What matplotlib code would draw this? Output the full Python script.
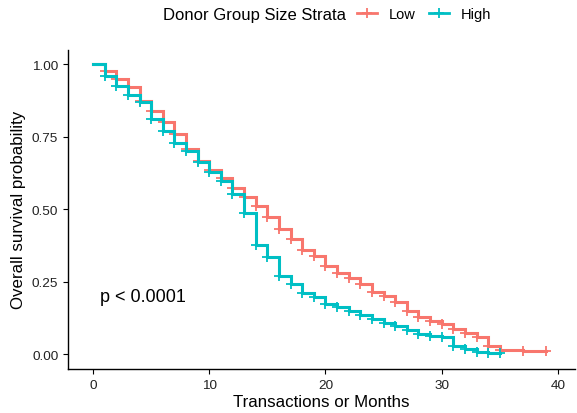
import matplotlib.pyplot as plt
import numpy as np
from matplotlib.lines import Line2D

plt.rcParams['font.family'] = ['Liberation Sans', 'DejaVu Sans']

# Kaplan-Meier estimates (level after each step)
low_time = [0, 1, 2, 3, 4, 5, 6, 7, 8, 9, 10, 11, 12, 13, 14, 15, 16, 17, 18, 19,
            20, 21, 22, 23, 24, 25, 26, 27, 28, 29, 30, 31, 32, 33, 34, 35, 37, 39]
low_surv = [1.0, 0.977, 0.948, 0.920, 0.874, 0.839, 0.800, 0.759, 0.707, 0.667,
            0.636, 0.606, 0.571, 0.540, 0.511, 0.471, 0.431, 0.397, 0.357, 0.339,
            0.304, 0.278, 0.263, 0.241, 0.215, 0.200, 0.178, 0.150, 0.127, 0.115,
            0.103, 0.086, 0.071, 0.059, 0.029, 0.014, 0.009, 0.009]

high_time = [0, 1, 2, 3, 4, 5, 6, 7, 8, 9, 10, 11, 12, 13, 14, 15, 16, 17, 18, 19,
             20, 21, 22, 23, 24, 25, 26, 27, 28, 29, 30, 31, 32, 33, 34, 35]
high_surv = [1.0, 0.957, 0.925, 0.894, 0.868, 0.810, 0.768, 0.728, 0.700, 0.661,
             0.626, 0.598, 0.552, 0.486, 0.376, 0.333, 0.270, 0.241, 0.211, 0.195,
             0.172, 0.161, 0.149, 0.133, 0.122, 0.108, 0.098, 0.083, 0.068, 0.063,
             0.058, 0.027, 0.017, 0.008, 0.003, 0.003]

strata = ["Low", "High"]
colors = ["#F8766D", "#00BFC4"]
pval_text = "p < 0.0001"

fig = plt.figure(figsize=(5.77, 4.14), dpi=100)
ax = fig.add_axes([0.118, 0.106, 0.879, 0.772])

for t, s, c in [(low_time, low_surv, colors[0]), (high_time, high_surv, colors[1])]:
    t = np.array(t)
    s = np.array(s)
    ax.step(t, s, where="post", color=c, lw=2.2, solid_joinstyle="miter")
    ax.plot(t[1:], s[1:], ls="none", marker="+", ms=7, mew=1.3, color=c)

ax.text(0.6, 0.2, pval_text, fontsize=13, ha="left", va="center")

ax.set_xlim(-2.15, 41.5)
ax.set_ylim(-0.052, 1.05)
ax.set_xticks([0, 10, 20, 30, 40])
ax.set_yticks([0, 0.25, 0.5, 0.75, 1.0])
ax.set_yticklabels(["0.00", "0.25", "0.50", "0.75", "1.00"])
ax.tick_params(labelsize=9.7, length=3.5, width=0.8, colors="black", labelcolor="#222222")
for side in ["top", "right"]:
    ax.spines[side].set_visible(False)
for side in ["left", "bottom"]:
    ax.spines[side].set_linewidth(1.0)
ax.set_xlabel("Transactions or Months", fontsize=12.2, labelpad=2)
ax.set_ylabel("Overall survival probability", fontsize=12.2, labelpad=4)

fig.text(0.283, 0.963, "Donor Group Size Strata", fontsize=12, ha="left", va="center")
handles = [Line2D([], [], color=c, lw=2, marker="+", ms=7, mew=1.3) for c in colors]
fig.legend(handles, strata, loc="center left", bbox_to_anchor=(0.618, 0.963), ncol=2,
           frameon=False, fontsize=10.5, handlelength=1.4, handletextpad=0.8,
           columnspacing=0.9, borderpad=0, borderaxespad=0)

fig.savefig("out.png", dpi=100)
